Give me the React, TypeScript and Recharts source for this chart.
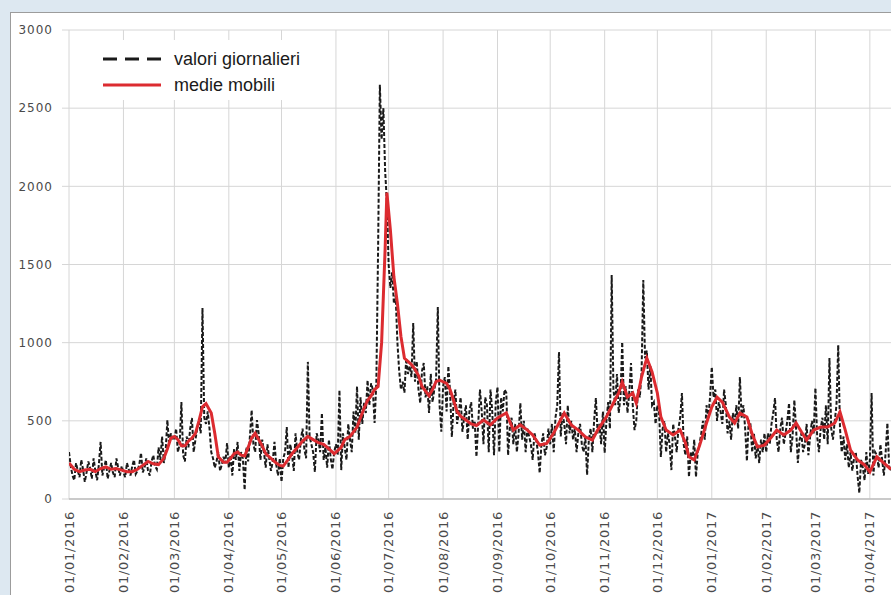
import React from 'react';
import { LineChart, Line, XAxis, YAxis, CartesianGrid } from 'recharts';

// Month start positions (days since 01/01/2016) and their labels
const monthTickDays = [0, 31, 60, 91, 121, 152, 182, 213, 244, 274, 305, 335, 366, 397, 425, 456];
const monthTickLabels = [
  '01/01/2016', '01/02/2016', '01/03/2016', '01/04/2016', '01/05/2016', '01/06/2016',
  '01/07/2016', '01/08/2016', '01/09/2016', '01/10/2016', '01/11/2016', '01/12/2016',
  '01/01/2017', '01/02/2017', '01/03/2017', '01/04/2017',
];
const yTicks = [0, 500, 1000, 1500, 2000, 2500, 3000];

// Daily values ("valori giornalieri"), one array per month
const jan2016 = [300,210,150,120,230,180,140,250,190,110,170,240,200,130,260,180,120,220,365,150,200,250,130,180,230,170,140,260,200,150,210];
const feb2016 = [170,140,230,190,150,210,250,160,180,220,295,170,200,260,180,150,240,280,210,190,330,250,400,230,300,505,350,420,380];
const mar2016 = [380,450,300,350,620,280,240,400,330,450,518,300,380,450,500,420,1222,520,480,560,450,300,260,200,240,300,180,220,270,230,358];
const apr2016 = [200,280,150,320,250,365,180,300,260,58,330,240,400,569,350,300,505,420,250,380,300,200,350,260,180,240,365,220,150,260];
const may2016 = [109,260,300,460,200,350,280,180,420,300,250,380,450,320,260,877,400,350,300,173,420,380,300,550,250,330,200,380,260,190,300];
const jun2016 = [350,280,697,185,420,330,250,480,380,300,560,420,720,380,650,480,615,550,760,600,740,700,486,750,1600,2650,2300,2500,2100,1900];
const jul2016 = [1500,1350,1450,1250,1300,1000,820,700,750,680,900,800,850,780,1126,750,880,700,614,820,870,650,720,550,800,620,700,760,1228,600,430];
const aug2016 = [720,780,560,850,680,397,620,700,480,560,650,430,520,600,380,560,620,450,500,270,480,700,560,350,650,600,300,700,560,280,620];
const sep2016 = [716,300,650,560,700,680,280,450,520,350,480,300,420,614,380,500,300,450,400,350,250,420,380,300,166,350,420,280,330,450];
const oct2016 = [350,480,300,520,600,940,400,550,480,350,600,420,500,380,450,300,420,480,350,300,400,154,380,450,300,500,646,420,480,350,560];
const nov2016 = [294,500,620,450,1433,700,600,800,550,650,1004,600,720,550,680,870,600,441,500,700,650,800,1401,900,950,700,850,600,620,480];
const dec2016 = [600,550,269,450,500,300,420,350,185,480,400,300,450,520,678,350,280,400,141,300,250,380,141,300,350,420,500,380,600,520,650];
const jan2017 = [845,650,700,500,620,560,480,700,600,420,500,380,550,480,600,450,780,520,600,450,243,500,480,300,420,260,350,230,380,300,420];
const feb2017 = [300,420,350,480,550,646,380,300,450,520,350,420,500,614,300,400,633,450,230,380,420,300,350,480,280,400,500,420];
const mar2017 = [710,400,300,450,520,380,600,350,902,450,380,500,600,985,450,300,400,250,350,200,300,180,260,300,150,38,250,200,120,300,160];
const apr2017 = [250,678,150,300,280,200,350,250,150,300,486,200,180,250,150];

const dailyMonths = [jan2016, feb2016, mar2016, apr2016, may2016, jun2016, jul2016, aug2016, sep2016, oct2016, nov2016, dec2016, jan2017, feb2017, mar2017, apr2017];

// Moving average ("medie mobili"): [day, value]
const movingAverage: [number, number][] = [
  [0,230],[3,190],[6,175],[9,185],[12,190],[15,175],[18,195],[21,205],[24,190],[27,195],[30,185],
  [33,175],[36,175],[39,190],[42,215],[45,240],[48,225],[51,220],[54,260],[56,320],[58,390],
  [60,400],[62,380],[64,340],[66,340],[68,370],[70,390],[72,420],[74,500],[76,590],[78,610],[81,550],[83,420],[85,270],[88,235],
  [90,235],[92,260],[94,290],[96,300],[98,280],[100,275],[102,330],[104,390],[106,420],[108,380],[110,340],[112,290],[114,270],[116,250],[118,230],[120,215],
  [122,210],[124,240],[127,290],[130,330],[133,370],[136,400],[139,380],[142,360],[145,350],[148,320],[151,290],
  [153,310],[155,330],[157,380],[160,400],[162,430],[164,460],[166,520],[168,580],[170,630],[172,660],[174,700],[176,720],[178,1000],[179,1300],[180,1600],[181,1960],
  [183,1720],[185,1420],[187,1250],[189,1040],[191,900],[193,880],[195,860],[197,830],[199,790],[201,720],[203,690],[205,660],[207,700],[209,750],[211,760],
  [213,750],[215,740],[217,700],[219,630],[221,560],[223,530],[226,505],[229,480],[232,470],[236,505],[240,475],
  [244,518],[249,550],[253,441],[257,474],[261,441],[264,410],[268,345],[272,355],
  [276,422],[282,550],[286,473],[290,441],[294,397],[298,377],[301,441],
  [306,525],[310,614],[313,678],[315,748],[318,652],[321,678],[323,614],[326,780],[329,902],[332,813],
  [335,678],[337,525],[340,441],[344,410],[348,441],[351,358],[353,270],[356,250],[359,340],[363,486],
  [366,589],[369,652],[372,620],[376,525],[379,486],[382,550],[386,525],[389,415],[392,333],[396,345],
  [400,397],[403,441],[407,410],[411,441],[414,486],[417,430],[420,377],[424,441],
  [428,460],[432,460],[436,486],[439,557],[442,441],[445,313],[449,250],[453,218],
  [456,173],[460,270],[464,230],[468,190],
];

const dailySeries: { day: number; value: number }[] = [];
{
  let d = 0;
  for (const month of dailyMonths) {
    for (const v of month) {
      dailySeries.push({ day: d, value: v });
      d += 1;
    }
  }
}
const maSeries = movingAverage.map(([day, value]) => ({ day, ma: value }));

const GRID = '#d6d6d6';
const TEXT = '#4a4a4a';
const RED = '#dc2b30';

const XTick = (props: any) => {
  const { x, y, payload } = props;
  const idx = monthTickDays.indexOf(payload.value);
  const label = idx >= 0 ? monthTickLabels[idx] : '';
  return (
    <text
      x={x}
      y={y}
      transform={`rotate(-90 ${x} ${y})`}
      textAnchor="end"
      dominantBaseline="central"
      fontSize={13}
      fontFamily="DejaVu Sans"
      letterSpacing={0.7}
      fill={TEXT}
    >
      {label}
    </text>
  );
};

export default function App() {
  return (
    <div
      style={{
        position: 'absolute',
        left: 0,
        top: 0,
        width: 891,
        height: 595,
        overflow: 'hidden',
        background: '#dde8f1',
      }}
    >
      <div
        style={{
          position: 'absolute',
          left: 10,
          top: 12,
          width: 920,
          height: 620,
          background: '#ffffff',
          border: '1px solid #9c9c9c',
        }}
      />
      <div style={{ position: 'absolute', left: 0, top: 0 }}>
        <LineChart
          width={930}
          height={620}
          margin={{ top: 30, right: 18, bottom: 41, left: 9 }}
        >
          <CartesianGrid stroke={GRID} strokeWidth={1} />
          <XAxis
            dataKey="day"
            type="number"
            domain={[0, 480]}
            ticks={monthTickDays}
            interval={0}
            height={80}
            tickSize={0}
            tickMargin={12}
            tickLine={false}
            axisLine={{ stroke: '#bfbfbf', strokeWidth: 1.5 }}
            tick={<XTick />}
            allowDataOverflow
          />
          <YAxis
            type="number"
            domain={[0, 3000]}
            ticks={yTicks}
            interval={0}
            width={60}
            axisLine={false}
            tickSize={7}
            tickMargin={9}
            tickLine={{ stroke: GRID }}
            tick={{ fontSize: 12, fontFamily: 'DejaVu Sans', fill: TEXT, letterSpacing: 1 }}
          />
          <Line
            data={dailySeries}
            dataKey="value"
            type="linear"
            stroke="#1a1a1a"
            strokeWidth={2}
            strokeDasharray="4 2"
            dot={false}
            activeDot={false}
            isAnimationActive={false}
          />
          <Line
            data={maSeries}
            dataKey="ma"
            type="linear"
            stroke={RED}
            strokeWidth={3}
            dot={false}
            activeDot={false}
            isAnimationActive={false}
          />
        </LineChart>
      </div>
      <div
        style={{
          position: 'absolute',
          left: 86,
          top: 40,
          width: 230,
          height: 60,
          background: '#ffffff',
        }}
      >
        <svg width={230} height={60} style={{ position: 'absolute', left: 0, top: 0 }}>
          <line x1={17} y1={19} x2={75} y2={19} stroke="#1a1a1a" strokeWidth={3} strokeDasharray="14 8" />
          <line x1={17} y1={45} x2={75} y2={45} stroke={RED} strokeWidth={3} />
          <text x={88} y={19} dominantBaseline="central" fontSize={18} fontFamily="Liberation Sans" fill="#1a1a1a">
            valori giornalieri
          </text>
          <text x={88} y={45} dominantBaseline="central" fontSize={18} fontFamily="Liberation Sans" fill="#1a1a1a">
            medie mobili
          </text>
        </svg>
      </div>
    </div>
  );
}
